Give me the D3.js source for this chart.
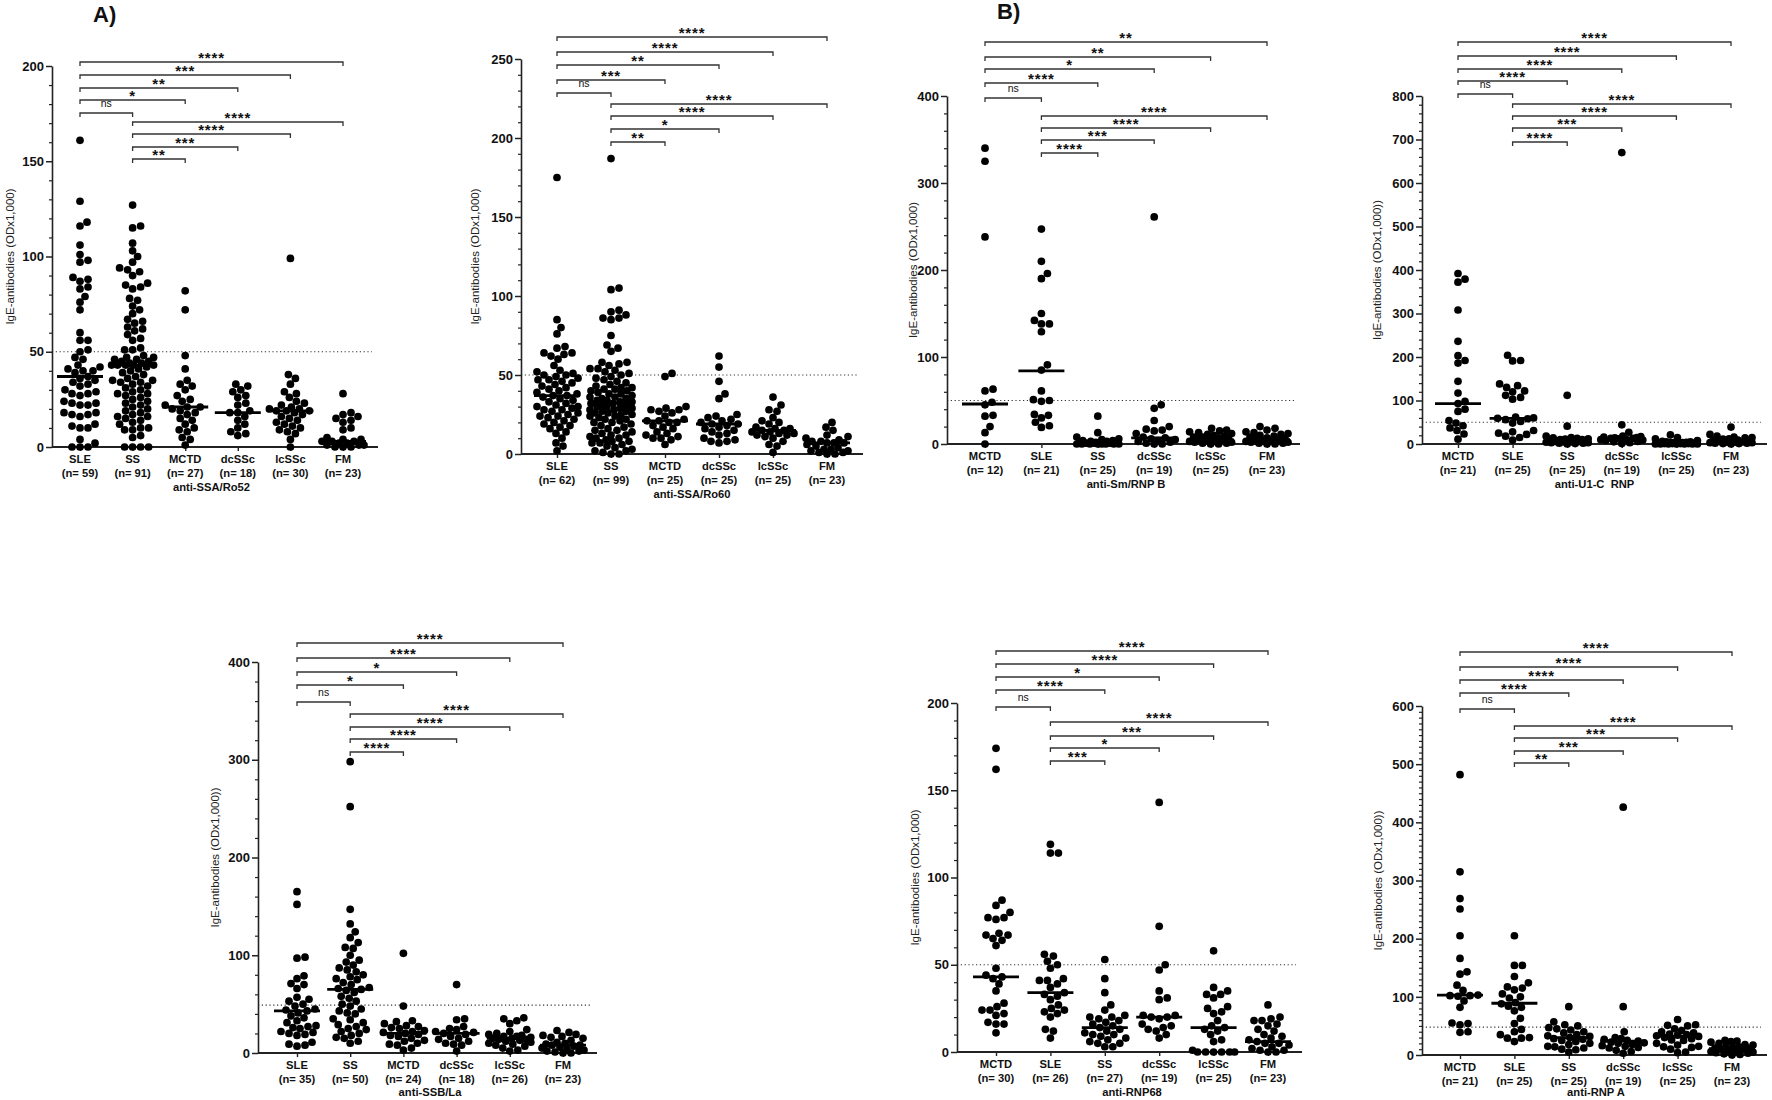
<!DOCTYPE html>
<html><head><meta charset="utf-8">
<script src="https://cdn.jsdelivr.net/npm/d3@7"></script>
<style>
body{margin:0;background:#fff}
svg{display:block}
text{font-family:"Liberation Sans",Arial,Helvetica,sans-serif}
</style>
</head><body>
<svg id="chart" width="1772" height="1100"></svg>
<script>
// ---------------- DATA ----------------
const groupsA = ["SLE","SS","MCTD","dcSSc","lcSSc","FM"];
const groupsB = ["MCTD","SLE","SS","dcSSc","lcSSc","FM"];

const ro52Values = [
 [161,129,118,116,106,101,98,97,89,88,87,84,83,79,76,72,60,56,56,51,50,47,46,43,42,41,40,40,39,37,36,35,34,33,32,30,29,28,28,27,24,23,23,22,22,18,18,17,17,16,12,11,10,10,4,2,0,0,0],
 [127,116,115,107,103,100,97,94,93,92,90,86,85,84,83,78,77,74,72,70,67,66,65,63,62,61,59,57,56,52,51,51,48,47,47,46,46,45,45,44,44,43,43,43,43,43,42,41,40,39,38,37,36,35,35,34,34,33,32,31,30,29,28,28,27,26,25,24,23,22,21,20,19,18,17,16,16,15,14,13,12,10,10,9,9,6,5,0,0,0,0],
 [82,72,48,41,35,33,32,30,27,25,24,22,21,21,20,19,18,17,15,14,12,10,9,8,5,4,1],
 [33,32,30,29,27,26,23,22,19,18,18,16,14,12,10,8,7,6],
 [99,38,36,33,29,28,26,24,23,22,21,20,20,19,19,19,18,17,16,15,14,13,12,11,10,9,8,7,4,0],
 [28,18,17,16,15,14,13,10,9,5,4,4,3,3,3,2,2,1,1,1,0,0,0]
];
const ro52Medians = [37,43,21,18,19,3];
const ro52SigFirst = ["ns","*","**","***","****"];
const ro52SigSecond = ["**","***","****","****"];

const ro60Values = [
 [175,85,80,76,68,67,64,64,63,62,60,56,53,52,51,50,50,49,48,47,47,46,45,44,43,42,41,40,39,38,37,37,36,35,34,33,32,31,30,30,29,28,27,26,25,24,23,22,21,20,19,18,17,16,14,13,10,7,5,2,28,24],
 [187,105,104,91,90,88,86,86,85,75,69,67,65,58,58,57,56,54,54,53,52,51,50,49,48,47,46,45,44,43,42,42,41,41,40,40,39,38,38,37,36,36,35,35,34,34,33,33,32,32,31,31,30,30,29,29,28,28,27,27,26,25,25,24,23,22,22,21,20,20,19,18,17,16,15,15,14,13,12,11,10,10,9,8,8,7,7,6,5,4,3,2,2,1,0,0,26,24,12],
 [51,49,30,29,28,28,27,26,24,22,21,21,20,20,18,17,16,14,13,12,11,10,10,9,6],
 [62,55,46,38,35,25,24,23,22,21,20,19,19,18,17,16,15,14,13,12,10,9,8,8,7],
 [36,31,28,27,23,21,20,19,17,16,16,15,15,14,14,13,13,12,12,11,10,8,6,5,1],
 [20,17,15,12,11,10,9,8,8,7,7,7,6,5,4,3,3,2,2,1,1,0,0]
];
const ro60Medians = [37,32,21,19,15,7];
const ro60SigFirst = ["ns","***","**","****","****"];
const ro60SigSecond = ["**","*","****","****"];

const smValues = [
 [340,325,238,63,61,48,45,33,32,20,13,0],
 [247,210,196,190,150,142,138,138,129,91,85,61,51,50,49,34,33,30,25,21,19],
 [32,13,8,6,5,4,4,3,3,2,2,2,1,1,1,1,1,0,0,0,0,0,0,0,0],
 [261,45,41,27,20,17,16,15,12,8,7,6,5,4,3,2,1,0,0],
 [18,16,15,14,13,12,11,10,9,8,8,7,6,5,5,4,4,3,3,2,2,1,1,0,0],
 [20,18,16,14,13,12,11,10,9,8,7,6,5,5,4,3,3,2,2,1,1,0,0]
];
const smMedians = [46,84,1,7,5,5];
const smSigFirst = ["ns","****","*","**","**"];
const smSigSecond = ["****","***","****","****"];

const u1cValues = [
 [392,379,372,308,236,203,192,186,144,117,98,93,80,75,54,48,42,37,31,23,11],
 [204,192,191,138,134,130,122,120,112,107,103,62,60,59,58,56,52,48,31,28,25,22,18,15,9],
 [112,41,18,15,14,13,12,11,10,10,9,8,8,7,6,6,5,5,4,3,3,2,2,1,0],
 [670,44,27,18,17,16,15,14,13,13,12,11,10,9,8,6,5,3,1],
 [21,15,12,8,6,5,5,4,4,3,3,2,2,2,1,1,1,1,0,0,0,0,0,0,0],
 [39,22,18,16,15,14,12,11,9,8,7,6,6,5,4,4,3,3,2,2,1,1,0]
];
const u1cMedians = [93,59,8,12,2,5];
const u1cSigFirst = ["ns","****","****","****","****"];
const u1cSigSecond = ["****","***","****","****"];

const ssbValues = [
 [165,152,98,97,79,76,71,70,66,57,55,53,50,48,45,44,43,41,38,36,33,31,28,27,26,25,22,21,20,19,18,11,9,8,7],
 [298,252,147,132,124,118,113,108,107,100,95,93,90,87,85,83,80,78,76,75,72,70,67,66,65,64,62,58,56,53,50,48,45,43,41,40,35,34,31,29,27,25,24,22,20,18,16,15,12,10],
 [102,48,33,32,30,28,27,26,25,23,22,21,20,19,18,17,15,13,12,10,9,8,5,3],
 [70,35,34,27,25,24,22,21,20,19,17,15,14,12,10,9,8,2],
 [36,35,33,30,24,22,20,19,18,17,17,16,15,15,14,14,13,12,11,10,9,8,7,5,3,2],
 [23,21,19,18,17,16,15,13,11,10,9,8,8,7,6,5,4,3,2,2,1,0,0]
];
const ssbMedians = [43,65,20,20,15,8];
const ssbSigFirst = ["ns","*","*","****","****"];
const ssbSigSecond = ["****","****","****","****"];

const rnp68Values = [
 [174,162,87,84,80,77,77,76,68,67,67,65,64,61,48,44,43,42,39,35,28,26,24,24,22,21,17,16,16,11],
 [119,114,114,56,55,52,50,48,42,41,41,39,37,34,33,32,30,27,25,24,23,22,20,13,12,8],
 [53,42,34,27,24,21,20,20,19,18,17,16,15,14,13,12,11,10,10,9,8,7,6,5,5,3,3],
 [143,72,50,47,35,31,30,21,21,20,20,19,16,15,14,13,12,10,8],
 [58,37,35,33,33,31,26,25,23,22,18,15,14,13,12,10,7,6,1,0,0,0,0,0,0],
 [27,20,19,18,18,16,15,13,12,10,9,8,7,6,5,5,4,3,2,1,1,0,0]
];
const rnp68Medians = [43,34,14,20,14,6];
const rnp68SigFirst = ["ns","****","*","****","****"];
const rnp68SigSecond = ["***","*","***","****"];

const rnpAValues = [
 [482,315,269,251,205,166,143,139,120,111,103,102,102,101,93,82,55,54,52,40,39],
 [205,154,154,135,124,117,115,112,105,100,98,90,88,84,82,76,63,54,44,40,35,30,29,29,23],
 [83,57,52,50,47,45,43,40,38,35,33,32,30,28,27,25,23,20,18,15,14,12,10,9,5],
 [426,83,40,30,28,27,25,24,22,21,20,18,16,15,13,12,8,6,3],
 [61,52,51,50,45,42,40,38,36,35,34,33,32,30,28,26,25,20,17,15,14,13,10,5,4],
 [25,24,23,22,20,18,17,15,14,13,12,11,10,9,8,7,6,5,4,3,2,1,0]
];
const rnpAMedians = [103,89,30,24,32,11];
const rnpASigFirst = ["ns","****","****","****","****"];
const rnpASigSecond = ["**","***","***","****"];

// ---------------- LAYOUT ----------------
const panels = [
 {title:"anti-SSA/Ro52", yTitle:"IgE-antibodies (ODx1,000)", cats:groupsA, values:ro52Values, medians:ro52Medians, sigA:ro52SigFirst, sigB:ro52SigSecond, yMax:200, major:50, minor:10, thresh:50,
  axisX:52, x0:80, x5:343, xEnd:378, yTop:66, yZero:447, labX:10, brA:[113,100,88,75,62], brB:[159,147,134,122]},
 {title:"anti-SSA/Ro60", yTitle:"IgE-antibodies (ODx1,000)", cats:groupsA, values:ro60Values, medians:ro60Medians, sigA:ro60SigFirst, sigB:ro60SigSecond, yMax:250, major:50, minor:10, thresh:50,
  axisX:521, x0:557, x5:827, xEnd:863, yTop:59, yZero:454, labX:475, brA:[93,80,65,52,37], brB:[142,129,116,104]},
 {title:"anti-Sm/RNP B", yTitle:"IgE-antibodies (ODx1,000)", cats:groupsB, values:smValues, medians:smMedians, sigA:smSigFirst, sigB:smSigSecond, yMax:400, major:100, minor:20, thresh:50,
  axisX:947, x0:985, x5:1267, xEnd:1300, yTop:96, yZero:444, labX:913, brA:[98,83,69,57,42], brB:[153,140,128,116]},
 {title:"anti-U1-C  RNP", yTitle:"IgE-antibodies (ODx1,000))", cats:groupsB, values:u1cValues, medians:u1cMedians, sigA:u1cSigFirst, sigB:u1cSigSecond, yMax:800, major:100, minor:20, thresh:50,
  axisX:1422, x0:1458, x5:1731, xEnd:1767, yTop:96, yZero:444, labX:1377, brA:[94,81,69,56,42], brB:[142,128,116,104]},
 {title:"anti-SSB/La", yTitle:"IgE-antibodies (ODx1,000))", cats:groupsA, values:ssbValues, medians:ssbMedians, sigA:ssbSigFirst, sigB:ssbSigSecond, yMax:400, major:100, minor:20, thresh:49,
  axisX:258, x0:297, x5:563, xEnd:597, yTop:662, yZero:1053, labX:215, brA:[702,685,672,658,643], brB:[752,739,727,714]},
 {title:"anti-RNP68", yTitle:"IgE-antibodies (ODx1,000)", cats:groupsB, values:rnp68Values, medians:rnp68Medians, sigA:rnp68SigFirst, sigB:rnp68SigSecond, yMax:200, major:50, minor:10, thresh:50,
  axisX:957, x0:996, x5:1268, xEnd:1302, yTop:703, yZero:1052, labX:915, brA:[707,690,677,664,651], brB:[761,748,736,722]},
 {title:"anti-RNP A", yTitle:"IgE-antibodies (ODx1,000))", cats:groupsB, values:rnpAValues, medians:rnpAMedians, sigA:rnpASigFirst, sigB:rnpASigSecond, yMax:600, major:100, minor:10, thresh:48,
  axisX:1422, x0:1460, x5:1732, xEnd:1767, yTop:706, yZero:1055, labX:1378, brA:[709,693,680,667,652], brB:[763,751,738,726]}
];

const svg = d3.select("#chart");
const R = 3.85;
const FONT = '"Liberation Sans",Arial,Helvetica,sans-serif';

function swarm(vals, y, r, maxHalf){
  const pts = vals.map(v => ({v, y:y(v)})).sort((a,b)=>b.y-a.y);
  const placed = [];
  const d = 2*r*0.95;
  for(const p of pts){
    let best = 0, bestScore = -1;
    for(let k=0;k<=2*maxHalf;k++){
      const off = (k%2===1?1:-1)*Math.ceil(k/2);
      let minD = Infinity;
      for(const q of placed){
        const dy = q.y-p.y;
        if(Math.abs(dy)>=d) continue;
        const dist = Math.hypot(q.dx-off, dy);
        if(dist<minD) minD = dist;
      }
      if(minD>=d){best=off;bestScore=Infinity;break;}
      if(minD>bestScore){bestScore=minD;best=off;}
    }
    p.dx = best; placed.push(p);
  }
  return placed;
}

panels.forEach(P=>{
  const g = svg.append("g");
  const y = d3.scaleLinear().domain([0,P.yMax]).range([P.yZero,P.yTop]);
  const x = d3.scalePoint().domain(P.cats).range([P.x0,P.x5]);

  // threshold dotted line
  g.append("line").attr("x1",P.axisX).attr("x2",P.xEnd-6)
    .attr("y1",y(P.thresh)).attr("y2",y(P.thresh))
    .attr("stroke","#333").attr("stroke-width",1.2).attr("stroke-dasharray","1.2,2.6");

  // y axis minor ticks
  const minors = d3.range(0,P.yMax+0.001,P.minor).filter(v=>Math.abs(v%P.major)>1e-6 && Math.abs(v%P.major - P.major)>1e-6);
  const yMinor = g.append("g").attr("transform",`translate(${P.axisX},0)`)
    .call(d3.axisLeft(y).tickValues(minors).tickSize(3).tickFormat(""));
  yMinor.select(".domain").remove();
  yMinor.selectAll("line").attr("stroke","#222").attr("stroke-width",1.2);
  // y axis major
  const majors = d3.range(0,P.yMax+0.001,P.major);
  const yAx = g.append("g").attr("transform",`translate(${P.axisX},0)`)
    .call(d3.axisLeft(y).tickValues(majors).tickSize(6).tickSizeOuter(0).tickPadding(2).tickFormat(d3.format("d")));
  yAx.select(".domain").attr("stroke","#222").attr("stroke-width",1.6);
  yAx.selectAll(".tick line").attr("stroke","#222").attr("stroke-width",1.5);
  yAx.selectAll(".tick text").attr("font-family",FONT).attr("font-size",13).attr("font-weight","bold").attr("fill","#111");

  // x axis
  const xAx = g.append("g").attr("transform",`translate(0,${P.yZero})`)
    .call(d3.axisBottom(x).tickSize(4).tickSizeOuter(0).tickFormat(""));
  xAx.select(".domain").remove();
  xAx.selectAll(".tick line").attr("stroke","#222").attr("stroke-width",1.4);
  g.append("line").attr("x1",P.axisX).attr("x2",P.xEnd).attr("y1",P.yZero).attr("y2",P.yZero)
    .attr("stroke","#222").attr("stroke-width",1.8);

  // category labels
  P.cats.forEach((c,i)=>{
    g.append("text").attr("x",x(c)).attr("y",P.yZero+16).attr("text-anchor","middle")
      .attr("font-size",11.2).attr("font-weight","bold").attr("fill","#111").text(c);
    g.append("text").attr("x",x(c)).attr("y",P.yZero+30).attr("text-anchor","middle")
      .attr("font-size",11.2).attr("font-weight","bold").attr("fill","#111").style("white-space","pre")
      .text("(n= "+P.values[i].length+")");
  });
  g.append("text").attr("x",(P.x0+P.x5)/2).attr("y",Math.min(P.yZero+44,1096)).attr("text-anchor","middle")
    .attr("font-size",11.2).attr("font-weight","bold").attr("fill","#111").style("white-space","pre").text(P.title);

  // y title
  g.append("text").attr("transform",`translate(${P.labX},${(P.yTop+P.yZero)/2}) rotate(-90)`)
    .attr("text-anchor","middle").attr("dominant-baseline","central")
    .attr("font-size",11.5).attr("fill","#222").text(P.yTitle);

  // points
  P.values.forEach((vals,i)=>{
    const cx = x(P.cats[i]);
    const pts = swarm(vals,y,R,21);
    g.append("g").selectAll("circle").data(pts).join("circle")
      .attr("cx",d=>cx+d.dx).attr("cy",d=>d.y).attr("r",R).attr("fill","#000");
    // median
    g.append("line").attr("x1",cx-23).attr("x2",cx+23)
      .attr("y1",y(P.medians[i])).attr("y2",y(P.medians[i]))
      .attr("stroke","#000").attr("stroke-width",2.8);
  });

  // significance brackets
  function bracket(i,j,yy,lab){
    const xa = x(P.cats[i]), xb = x(P.cats[j]);
    g.append("path").attr("d",`M${xa},${yy+4}V${yy}H${xb}V${yy+4}`)
      .attr("fill","none").attr("stroke","#333").attr("stroke-width",1.3);
    const t = g.append("text").attr("x",(xa+xb)/2).attr("text-anchor","middle").attr("fill","#111").text(lab);
    if(lab==="ns"){
      t.attr("y",yy-6).attr("font-size",10.5);
    } else {
      t.attr("y",yy+0.5).attr("font-size",15).attr("font-weight","bold").attr("letter-spacing",0.8);
    }
  }
  P.sigA.forEach((lab,k)=>bracket(0,k+1,P.brA[k],lab));
  P.sigB.forEach((lab,k)=>bracket(1,k+2,P.brB[k],lab));
});

// panel letters
svg.append("text").attr("x",93).attr("y",22).attr("font-size",22).attr("font-weight","bold").attr("fill","#111").text("A)");
svg.append("text").attr("x",997).attr("y",19).attr("font-size",22).attr("font-weight","bold").attr("fill","#111").text("B)");
</script>
</body></html>
